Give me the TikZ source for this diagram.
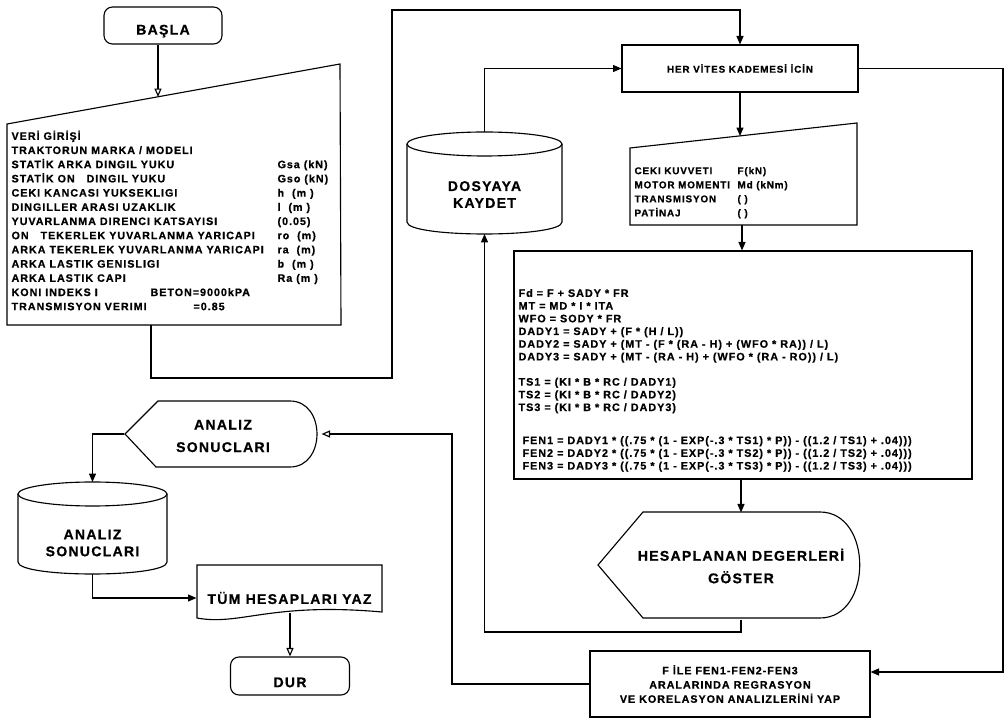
\documentclass[tikz,border=0pt]{standalone}
\usepackage{fontspec}
\setmainfont{Liberation Sans}
\newfontfamily\flowfont{Liberation Sans}[LetterSpace=9,BoldFeatures={FakeBold=0.7}]
\usetikzlibrary{arrows.meta,positioning}
\newdimen\pxu
\pxu=0.025cm
\tikzset{
  box/.style={draw, inner sep=0pt},
  term/.style={draw, rounded corners=6pt, inner sep=0pt, big},
  small/.style={font=\flowfont\bfseries\fontsize{7.65}{10.1}\selectfont},
  tiny/.style={font=\flowfont\bfseries\fontsize{7.7}{9.03}\selectfont},
  mid/.style={font=\flowfont\bfseries\fontsize{7}{10}\selectfont},
  big/.style={font=\flowfont\bfseries\fontsize{10}{16}\selectfont},
  bigc/.style={font=\flowfont\bfseries\fontsize{10}{12}\selectfont},
  arr/.style={-{Triangle[length=6pt,width=5pt]}},
  oarr/.style={-{Triangle[open,length=6pt,width=5pt]}},
}
\begin{document}
\begin{tikzpicture}[x=\pxu, y=-\pxu, line width=0.8pt, every node/.style={inner sep=0pt}]
\useasboundingbox (0,0) rectangle (1008,720);

% baslangic ve veri girisi
\path (163,25.5) node (basla) [term, minimum width=118*\pxu, minimum height=37*\pxu] {\rule{0pt}{15pt}BAŞLA};

\draw (7,124) -- (340,64) -- (341,325) -- (7,325) -- cycle;
\coordinate (veriIn) at (158,97);
\coordinate (veriOut) at (151,325);
\path (11,130) node (veri) [anchor=north west, small, align=left] {
VERİ GİRİŞİ\\
TRAKTORUN MARKA / MODELI\\
\makebox[266\pxu][l]{STATİK ARKA DINGIL YUKU}Gsa (kN)\\
\makebox[266\pxu][l]{STATİK ON \ \ DINGIL YUKU}Gso (kN)\\
\makebox[266\pxu][l]{CEKI KANCASI YUKSEKLIGI}h \ (m )\\
\makebox[266\pxu][l]{DINGILLER ARASI UZAKLIK}l \ (m )\\
\makebox[266\pxu][l]{YUVARLANMA DIRENCI KATSAYISI}(0.05)\\
\makebox[266\pxu][l]{ON \ \ TEKERLEK YUVARLANMA YARICAPI}ro \ (m)\\
\makebox[266\pxu][l]{ARKA TEKERLEK YUVARLANMA YARICAPI}ra \ (m)\\
\makebox[266\pxu][l]{ARKA LASTIK GENISLIGI}b \ (m )\\
\makebox[266\pxu][l]{ARKA LASTIK CAPI}Ra (m )\\
\makebox[139\pxu][l]{KONI INDEKS I}BETON=9000kPA\\
\makebox[182\pxu][l]{TRANSMISYON VERIMI}=0.85};

\draw [oarr] (basla.south -| veriIn) -- (veriIn);

% vites dongusu
\path (740,68.5) node (her) [box, mid, minimum width=236*\pxu, minimum height=47*\pxu] {HER VİTES KADEMESİ İCİN};
\coordinate (loopA) at (392,378);
\coordinate (loopB) at (392,10);
\draw [arr] (veriOut) |- (loopA) -- (loopB) -| (her.north);

% dosyaya kaydet
\draw (407,144) -- (407,222) .. controls (407,238) and (562,238) .. (562,222) -- (562,144);
\draw (484.5,144) ellipse [x radius=77.5, y radius=12];
\path (484.5,194.5) node (dos) [bigc, align=center] {DOSYAYA\\KAYDET};
\coordinate (dosTop) at (484.5,132);
\coordinate (dosBot) at (484.5,234);
\draw [arr] (dosTop) |- (her.west);

% ceki verileri
\draw (630,148) -- (857,123) -- (857,225) -- (630,225) -- cycle;
\coordinate (cekiIn) at (740,136);
\coordinate (cekiOut) at (742,225);
\path (634,166.5) node (ceki) [anchor=north west, mid, align=left] {
\makebox[103\pxu][l]{CEKI KUVVETI}F(kN)\\
\makebox[103\pxu][l]{MOTOR MOMENTI}Md (kNm)\\
\makebox[103\pxu][l]{TRANSMISYON}( )\\
\makebox[103\pxu][l]{PATİNAJ}( )};
\draw [arr] (her.south) -- (cekiIn);

% formuller
\path (743,365) node (form) [box, minimum width=458*\pxu, minimum height=228*\pxu] {};
\path (518,288.5) node (formT) [anchor=north west, tiny, align=left] {
Fd = F + SADY * FR\\
MT = MD * I * ITA\\
WFO = SODY * FR\\
DADY1 = SADY + (F * (H / L))\\
DADY2 = SADY + (MT - (F * (RA - H) + (WFO * RA)) / L)\\
DADY3 = SADY + (MT - (RA - H) + (WFO * (RA - RO)) / L)\\[8.9pt]
TS1 = (KI * B * RC / DADY1)\\
TS2 = (KI * B * RC / DADY2)\\
TS3 = (KI * B * RC / DADY3)\\[14.5pt]
\ FEN1 = DADY1 * ((.75 * (1 - EXP(-.3 * TS1) * P)) - ((1.2 / TS1) + .04)))\\
\ FEN2 = DADY2 * ((.75 * (1 - EXP(-.3 * TS2) * P)) - ((1.2 / TS2) + .04)))\\
\ FEN3 = DADY3 * ((.75 * (1 - EXP(-.3 * TS3) * P)) - ((1.2 / TS3) + .04)))};
\draw [arr] (cekiOut) -- (cekiOut |- form.north);

% sonuclari goster
\draw (643,512) -- (820,512) .. controls (873,512) and (873,618) .. (820,618) -- (643,618) -- (598,565) -- cycle;
\path (741,566) node (hes) [big, align=center, minimum height=106*\pxu] {HESAPLANAN DEGERLERİ\\GÖSTER};
\draw [arr] (form.south -| hes.north) -- (hes.north);
\coordinate (saveC) at (484.5,632);
\draw [arr] (hes.south) |- (saveC) -- (dosBot);

% regresyon
\path (730,684) node (reg) [box, small, align=center, minimum width=280*\pxu, minimum height=66*\pxu] {F İLE FEN1-FEN2-FEN3\\ARALARINDA REGRASYON\\VE KORELASYON ANALIZLERİNİ YAP};
\coordinate (rgtBot) at (1003,672);
\draw [arr] (her.east) -| (rgtBot) -- (rgtBot -| reg.east);

% analiz sonuclari
\draw (158,401) -- (290,401) .. controls (326,401) and (326,467) .. (290,467) -- (156,467) -- (125,434) -- cycle;
\path (223,436) node (anD) [big, align=center, minimum width=196*\pxu, minimum height=66*\pxu] {ANALIZ\\SONUCLARI};
\coordinate (anB) at (452,434);
\draw [oarr] (reg.west) -| (anB) -- (anB -| anD.east);

\draw (18,494) -- (18,562) .. controls (18,578) and (167,578) .. (167,562) -- (167,494);
\draw (92.5,494) ellipse [x radius=74.5, y radius=12];
\path (92.5,543) node (anC) [bigc, align=center] {ANALIZ\\SONUCLARI};
\coordinate (anCin) at (92.5,482);
\coordinate (anCout) at (92.5,574);
\draw [arr] (anD.west |- anB) -| (anCin);

% yazdir ve dur
\draw (197,565) -- (382,565) -- (382,612) .. controls (270,602) and (240,626) .. (197,618) -- cycle;
\path (289.5,598) node (tum) [big, minimum width=185*\pxu] {TÜM HESAPLARI YAZ};
\coordinate (tumOut) at (290,613);
\draw [arr] (anCout) |- (tum.west);

\path (290,676) node (dur) [term, minimum width=119*\pxu, minimum height=38*\pxu] {\rule{0pt}{16pt}DUR};
\draw [oarr] (tumOut) -- (dur.north);

\end{tikzpicture}
\end{document}
